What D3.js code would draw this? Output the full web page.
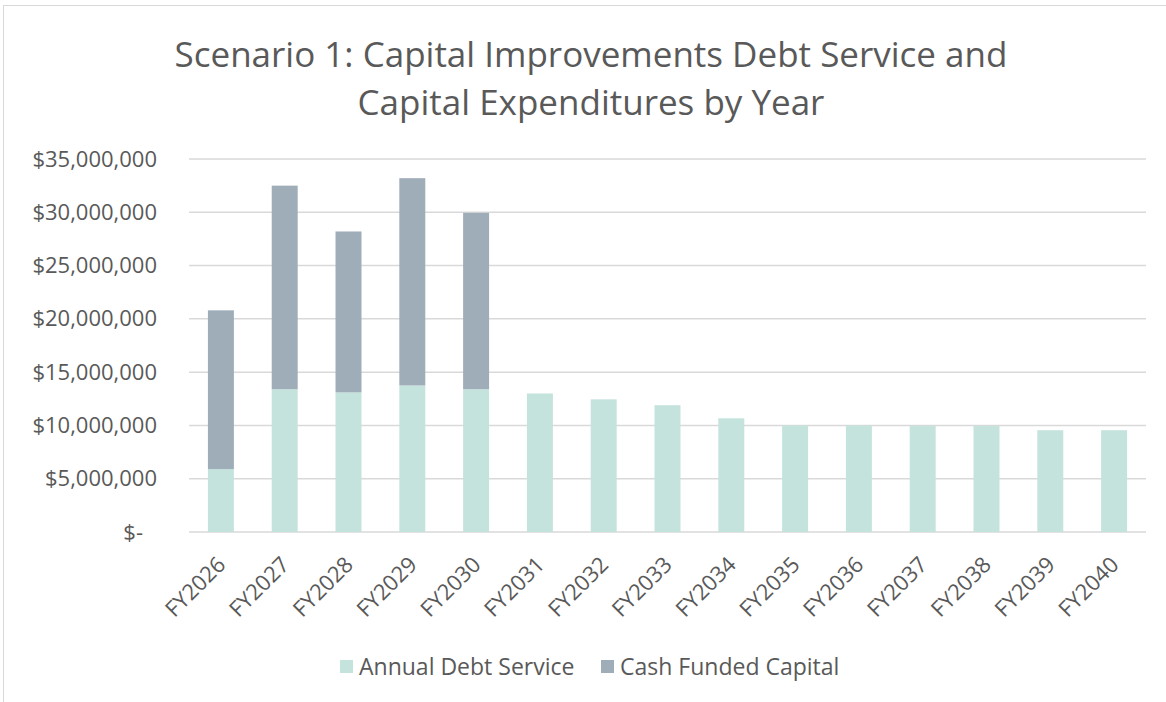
<!DOCTYPE html>
<html>
<head>
<meta charset="utf-8">
<script src="https://cdn.jsdelivr.net/npm/d3@7"></script>
<style>
  body { margin: 0; background: #fff; }
  svg { display: block; }
  svg text { font-family: "Open Sans", "Noto Sans", sans-serif; }
</style>
</head>
<body>
<div id="vis"></div>
<script>
// data
const years = ["FY2026","FY2027","FY2028","FY2029","FY2030","FY2031","FY2032","FY2033",
               "FY2034","FY2035","FY2036","FY2037","FY2038","FY2039","FY2040"];
const debtService = [5900000, 13400000, 13100000, 13750000, 13400000, 13000000, 12450000, 11900000,
                     10670000, 10000000, 10000000, 9970000, 9950000, 9550000, 9550000];
const cashCapital = [14900000, 19100000, 15100000, 19450000, 16550000, 0, 0, 0,
                     0, 0, 0, 0, 0, 0, 0];
const yTicks = [0, 5000000, 10000000, 15000000, 20000000, 25000000, 30000000, 35000000];
const seriesNames = ["Annual Debt Service", "Cash Funded Capital"];
const seriesColors = ["#C5E3DD", "#9FADB9"];

const W = 1166, H = 702;
const plotL = 189, plotR = 1146, plotT = 159, plotB = 532;
const textColor = "#595959";
const gridColor = "#D9D9D9";

const rows = years.map((y, i) => ({ year: y, debt: debtService[i], cash: cashCapital[i] }));
const stack = d3.stack().keys(["debt", "cash"])(rows);

const x = d3.scaleBand().domain(years).range([plotL, plotR]).paddingInner(0.593).paddingOuter(0.2965);
const y = d3.scaleLinear().domain([0, 35000000]).range([plotB, plotT]);

const svg = d3.select("#vis").append("svg").attr("width", W).attr("height", H);

// chart area border
svg.append("rect")
  .attr("x", 3.5).attr("y", 5.5).attr("width", 1180).attr("height", 710)
  .attr("fill", "none").attr("stroke", gridColor).attr("stroke-width", 1);

// title
svg.append("text")
  .attr("x", 591).attr("y", 67)
  .attr("text-anchor", "middle").attr("fill", textColor)
  .style("font-size", "35px")
  .selectAll("tspan")
  .data(["Scenario 1: Capital Improvements Debt Service and", "Capital Expenditures by Year"])
  .enter().append("tspan")
    .attr("x", 591).attr("dy", (d, i) => i ? 48 : 0)
    .text(d => d);

// gridlines
svg.append("g")
  .selectAll("line")
  .data(yTicks)
  .enter().append("line")
    .attr("x1", plotL).attr("x2", plotR)
    .attr("y1", d => y(d)).attr("y2", d => y(d))
    .attr("stroke", gridColor).attr("stroke-width", 1.5);

// y axis labels
const yAxis = d3.axisLeft(y).tickValues(yTicks).tickSize(0).tickPadding(32)
  .tickFormat(d => d === 0 ? "$-" : "$" + d3.format(",")(d));
const yg = svg.append("g").attr("transform", `translate(${plotL},0)`).call(yAxis)
  .attr("font-family", null).attr("font-size", null);
yg.select(".domain").remove();
yg.selectAll("text")
  .attr("fill", textColor).style("font-size", "22px")
  .attr("dx", d => d === 0 ? -14 : 0);

// bars
svg.append("g")
  .selectAll("g")
  .data(stack)
  .enter().append("g")
    .attr("fill", (d, i) => seriesColors[i])
  .selectAll("rect")
  .data(d => d)
  .enter().append("rect")
    .attr("x", d => x(d.data.year))
    .attr("y", d => y(d[1]))
    .attr("width", x.bandwidth())
    .attr("height", d => y(d[0]) - y(d[1]));

// x axis labels
const xAxis = d3.axisBottom(x).tickSize(0).tickPadding(0);
const xg = svg.append("g").attr("transform", `translate(0,${plotB})`).call(xAxis)
  .attr("font-family", null).attr("font-size", null);
xg.select(".domain").remove();
xg.selectAll("text")
  .attr("fill", textColor).style("font-size", "22px")
  .attr("text-anchor", "end")
  .attr("dy", 0)
  .attr("transform", "translate(6,34) rotate(-45)")
  .attr("x", 0).attr("y", 0);

// legend
const legend = svg.append("g").attr("transform", "translate(340,675)");
const legendX = [0, 261];
const items = legend.selectAll("g")
  .data(seriesNames)
  .enter().append("g")
    .attr("transform", (d, i) => `translate(${legendX[i]},0)`);
items.append("rect")
  .attr("x", 0).attr("y", -15).attr("width", 13).attr("height", 13)
  .attr("fill", (d, i) => seriesColors[i]);
items.append("text")
  .attr("x", 19).attr("y", 0)
  .attr("fill", textColor).style("font-size", "23px")
  .text(d => d);
</script>
</body>
</html>
